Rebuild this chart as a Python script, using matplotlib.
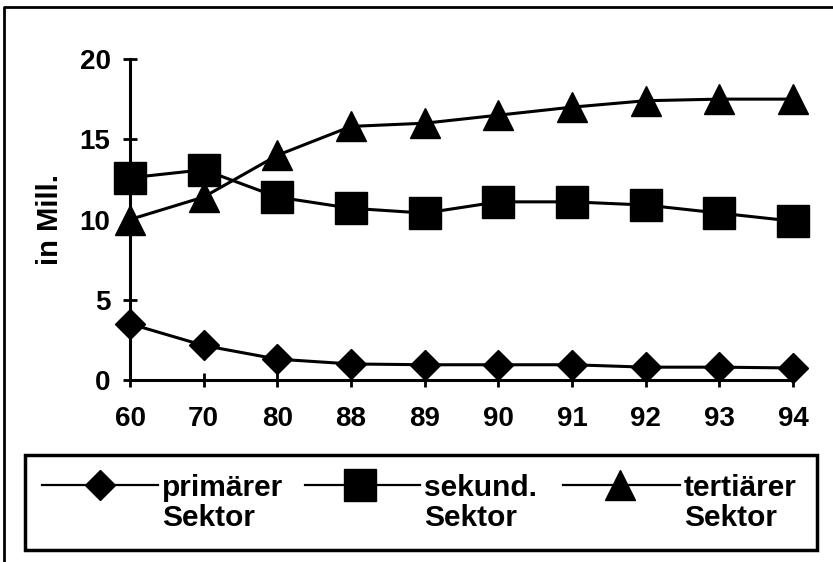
import matplotlib
matplotlib.use("Agg")
import matplotlib.pyplot as plt
from matplotlib.lines import Line2D
from matplotlib.patches import Rectangle

years = ["60", "70", "80", "88", "89", "90", "91", "92", "93", "94"]
primaer = [3.5, 2.15, 1.3, 1.0, 0.95, 0.95, 0.95, 0.8, 0.8, 0.75]
sekundaer = [12.6, 13.1, 11.4, 10.7, 10.4, 11.1, 11.1, 10.9, 10.4, 9.9]
tertiaer = [10.0, 11.4, 14.0, 15.8, 16.0, 16.5, 17.0, 17.4, 17.5, 17.5]
labels = ["primärer\nSektor", "sekund.\nSektor", "tertiärer\nSektor"]

plt.rcParams['font.family'] = ['Liberation Sans', 'DejaVu Sans']
plt.rcParams['font.weight'] = 'bold'

W, H = 833, 562
fig = plt.figure(figsize=(W / 100, H / 100), dpi=100)

# outer frame (only top and left edges are inside the picture)
fig.lines.append(Line2D([4 / W, 4 / W, 1.0], [0.0, 1 - 7 / H, 1 - 7 / H],
                        transform=fig.transFigure, color='black', lw=2))

ax = fig.add_axes([130 / W, 1 - 380 / H, 663 / W, 321 / H])
x = range(len(years))
styles = [('D', 15.5), ('s', 23), ('^', 22)]
series = [primaer, sekundaer, tertiaer]
for vals, (m, ms) in zip(series, styles):
    ax.plot(x, vals, color='black', lw=2.2, marker=m, markersize=ms,
            clip_on=False, zorder=3)

ax.set_xlim(0, 9)
ax.set_ylim(0, 20)
ax.set_xticks(list(x))
ax.set_xticklabels(years)
ax.set_yticks([0, 5, 10, 15, 20])
for s in ['top', 'right']:
    ax.spines[s].set_visible(False)
for s in ['left', 'bottom']:
    ax.spines[s].set_linewidth(2.2)
ax.tick_params(axis='x', direction='inout', length=10, width=2, labelsize=20, pad=14)
ax.tick_params(axis='y', direction='inout', length=10, width=2, labelsize=20, pad=9)
ax.set_ylabel("in Mill.", fontsize=21, fontweight='bold')
ax.yaxis.set_label_coords(-(130 - 64) / 663, (380 - 219) / 321)
ax.patch.set_alpha(0)

# legend box
fig.patches.append(Rectangle((25 / W, 1 - 550 / H), 792 / W, 95 / H,
                             transform=fig.transFigure, fill=False,
                             lw=2.5, ec='black'))
entries = [(42, 158, 100), (305, 420, 360), (563, 680, 620)]
ly = 1 - 485 / H
for (x0, x1, xm), (m, ms), lab in zip(entries, styles, labels):
    fig.lines.append(Line2D([x0 / W, x1 / W], [ly, ly], transform=fig.transFigure,
                            color='black', lw=1.6))
    fig.lines.append(Line2D([xm / W], [ly], transform=fig.transFigure,
                            color='black', marker=m, markersize=ms))
    fig.text((x1 + 4) / W, 1 - 503 / H, lab, fontsize=21.5, fontweight='bold',
             va='center', ha='left', linespacing=1.1)

fig.savefig("out.png", dpi=100)
